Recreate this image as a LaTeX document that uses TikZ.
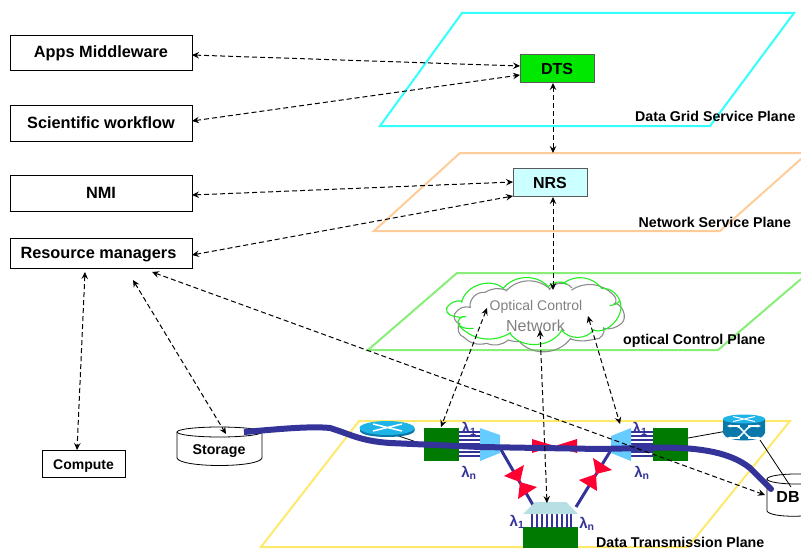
\documentclass[tikz,border=0pt]{standalone}
\usepackage{fontspec}
\setmainfont{Liberation Sans}
\usetikzlibrary{arrows.meta}
\definecolor{wavblue}{HTML}{333399}
\definecolor{muxblue}{HTML}{66CCFF}
\definecolor{muxpale}{HTML}{B8E0E4}
\definecolor{routerblue}{HTML}{0A78A8}
\definecolor{routertop}{HTML}{1FB4E8}
\definecolor{boxgreen}{HTML}{007A00}
\definecolor{bowred}{HTML}{FF0033}
\definecolor{planecyan}{HTML}{33FFFF}
\definecolor{planeorange}{HTML}{FFCC99}
\definecolor{planegreen}{HTML}{88EE77}
\definecolor{planeyellow}{HTML}{FFE96B}
\definecolor{dtsgreen}{HTML}{00E800}
\definecolor{nrscyan}{HTML}{CCFFFF}
\definecolor{cloudgreen}{HTML}{22EE22}
\definecolor{cloudgray}{HTML}{8C8C8C}
\tikzset{
  lefbox/.style={draw=black,line width=0.7pt,fill=white,inner sep=0pt,text height=12pt,text depth=1pt,font=\bfseries\fontsize{16.3}{18}\selectfont},
  svcbox/.style={draw=black!65,line width=1pt,inner sep=0pt,minimum width=74pt,minimum height=28pt,text height=12pt,text depth=0pt,font=\bfseries\fontsize{16}{18}\selectfont},
  planelabel/.style={inner sep=0pt,anchor=west,font=\bfseries\fontsize{14.2}{16}\selectfont},
  plane/.style={line width=2pt,line join=miter},
  dasharrow/.style={dashed,dash pattern=on 5pt off 3pt,line width=1pt,{Stealth[length=7pt,width=6.5pt,inset=2.5pt]}-{Stealth[length=7pt,width=6.5pt,inset=2.5pt]}},
  thinblue/.style={wavblue,line width=3pt},
  fiber/.style={wavblue,line width=6pt,line join=round},
  lam/.style={inner sep=0pt,text=wavblue,font=\bfseries\fontsize{15}{16}\selectfont},
  oxc/.style={fill=boxgreen,draw=none,inner sep=0pt},
  bow/.style={fill=bowred,draw=none},
  wire/.style={black,line width=0.8pt},
  cyl/.style={line width=0.8pt,fill=white},
  puff/.style={line width=1.1pt,line cap=round}
}
\begin{document}
\begin{tikzpicture}[x=1pt,y=-1pt]
\useasboundingbox (0,0) rectangle (801,551);
\clip (0,0) rectangle (801,551);
% planes
\draw[plane,draw=planecyan] (462,13) -- (794,13) -- (710,126) -- (380,126) -- cycle;
\draw[plane,draw=planeorange] (801,153) -- (460,153) -- (374,231) -- (720,231) -- (801,159);
\draw[plane,draw=planegreen] (801,273) -- (457,273) -- (368,350) -- (718,350) -- (801,279);
\draw[plane,draw=planeyellow] (359,421) -- (790,421) -- (688,547) -- (261,547) -- cycle;
% left boxes
\node[lefbox,minimum width=182pt,minimum height=35pt] (apps) at (101,52.5) {Apps Middleware};
\node[lefbox,minimum width=182pt,minimum height=36pt] (sci) at (101,123) {Scientific workflow};
\node[lefbox,minimum width=182pt,minimum height=36pt] (nmi) at (101,193) {NMI};
\node[lefbox,minimum width=182pt,minimum height=30pt] (rm) at (101,253) {Resource managers\hspace*{5pt}};
\node[lefbox,minimum width=83pt,minimum height=27pt,text height=11pt,text depth=0pt,font=\bfseries\fontsize{14}{16}\selectfont] (compute) at (83.5,463.5) {Compute};
% service boxes
\node[svcbox,fill=dtsgreen] (dts) at (557,69) {DTS};
\node[svcbox,fill=nrscyan] (nrs) at (550,182) {NRS};
% clouds, traced lobe by lobe
\begin{scope}[shift={(430,265)},x=0.3333pt,y=-0.3333pt]
\draw[puff,draw=cloudgray]
  (75,145) to[bend left=35] (122,127)
  (120,125) to[bend left=50] (165,82) to[bend left=25] (230,76)
  (228,78) to[bend left=45] (360,72)
  (358,74) to[bend left=55] (425,68)
  (425,75) to[bend left=40] (550,90) to[bend left=40] (555,118)
  (552,115) to[bend left=70] (575,175) to[bend left=25] (520,190)
  (520,188) to[bend left=70] (495,222) to[bend left=15] (420,222)
  (422,220) to[bend left=50] (270,232)
  (272,230) to[bend left=10] (235,225) to[bend left=30] (170,235) to[bend left=30] (100,215)
  (102,217) to[bend left=60] (90,175) (90,176) to[bend left=60] (75,145);
\draw[puff,draw=cloudgreen]
  (50,128) to[bend left=30] (95,108)
  (95,112) to[bend left=60] (220,70)
  (218,72) to[bend left=50] (355,65)
  (353,67) to[bend left=40] (412,58)
  (400,55) to[bend left=45] (515,70) to[bend left=35] (570,108) to[bend left=15] (540,122)
  (568,106) to[bend left=70] (490,195)
  (492,193) to[bend left=55] (395,195)
  (397,192) to[bend left=60] (240,205)
  (242,203) to[bend left=40] (85,180)
  (85,180) to[bend right=20] (130,190)
  (85,178) to[bend left=70] (105,155)
  (107,155) to[bend left=15] (60,150) to[bend left=40] (50,128);
\end{scope}
\node[inner sep=0pt,text=black!50,font=\fontsize{14}{16}\selectfont] (cloudtext) at (536,307) {Optical Control};
\node[inner sep=0pt,text=black!50,font=\fontsize{16}{18}\selectfont] (cloudtextb) at (535.5,326) {Network};
% storage, DB
\draw[cyl] (177,432) -- (177,458) .. controls (180,468) and (259,468) .. (262,458) -- (262,432);
\draw[cyl] (219.5,432) ellipse [x radius=42.5,y radius=5];
\node[inner sep=0pt,font=\bfseries\fontsize{14.2}{16}\selectfont] (storage) at (219,451.5) {Storage};
\draw[cyl] (767,479) -- (767,511) .. controls (770,518) and (815,518) .. (825,511) -- (825,479);
\draw[cyl] (796,479) ellipse [x radius=29,y radius=5];
\node[inner sep=0pt,font=\bfseries\fontsize{16}{18}\selectfont] (db) at (788,497) {DB};
% routers and switch boxes
\coordinate (rl) at (387,432);
\coordinate (rr) at (744,428);
\coordinate (rrb) at (760,440);
\coordinate (dbT) at (791,487);
\coordinate (oxrE) at (688,438);
\node[oxc,minimum width=35pt,minimum height=33pt] (oxl) at (441.5,444.5) {};
\node[oxc,minimum width=35pt,minimum height=33pt] (oxr) at (670.5,444.5) {};
\node[oxc,minimum width=55pt,minimum height=21pt] (oxb) at (550.5,537.5) {};
\draw[wire] (rl) -- (oxl.west);
\draw[wire] (rr) -- (oxrE);
\draw[wire] (rrb) -- (dbT);
\fill[routerblue] (360,428) -- (360,431) .. controls (362,439) and (412,439) .. (414.5,431) -- (414.5,428) -- cycle;
\fill[routertop] (387,428) ellipse [x radius=27.5,y radius=7];
\draw[white,line width=1.5pt] (373,424) -- (402,431) (373,431) -- (402,424);
\fill[routerblue] (723,419) -- (723,433) .. controls (725,443) and (763,443) .. (765,433) -- (765,419) -- cycle;
\fill[routertop] (744,419) ellipse [x radius=21,y radius=4.5];
\draw[white,line width=1pt] (733,416.5) -- (755,421.5) (733,421.5) -- (755,416.5);
\draw[white,line width=1.2pt,-{Stealth[length=4pt]}] (748,426) -- (761,426);
\draw[white,line width=1.2pt,-{Stealth[length=4pt]}] (740,426) -- (727,426);
\draw[white,line width=1.2pt,-{Stealth[length=4pt]}] (748,438) -- (761,438);
\draw[white,line width=1.2pt,-{Stealth[length=4pt]}] (740,438) -- (727,438);
\draw[white,line width=1.5pt] (736,426) .. controls (744,428) and (744,436) .. (752,438) (736,438) .. controls (744,436) and (744,428) .. (752,426);
% mux lines
\foreach \yy in {432,436,440,444,448,452,456}{
  \draw[wavblue,line width=1.2pt] (oxl.east |- 0,\yy) -- (483,\yy);
  \draw[wavblue,line width=1.2pt] (629,\yy) -- (oxr.west |- 0,\yy);
}
\foreach \xx in {532,537,542,547,552,557,562,567,571}{
  \draw[wavblue,line width=1.4pt] (\xx,513) -- (\xx,528);
}
% muxes
\coordinate (muxl) at (500,448);
\coordinate (muxr) at (611,450);
\coordinate (muxbL) at (533,505);
\coordinate (muxbR) at (576,507);
\draw[thinblue] (muxl) -- (muxbL);
\draw[thinblue] (muxr) -- (muxbR);
\fill[muxblue] (480,428) -- (500,435) -- (500,453) -- (480,461) -- cycle;
\fill[muxblue] (631,428) -- (611,436) -- (611,453) -- (631,461) -- cycle;
\fill[muxpale] (523,514) -- (535,502) -- (566,502) -- (578,514) -- cycle;
% bowties
\fill[bow] (504,476) -- (524,465) -- (520,482) -- (537,487) -- (518,499) -- (520,482) -- cycle;
\fill[bow] (593,458) -- (612,470) -- (596,474) -- (597,491) -- (579,480) -- (596,474) -- cycle;
\fill[bow] (532,439) -- (555,446) -- (577,439) -- (577,453) -- (555,446) -- (532,453) -- cycle;
% main fibre
\draw[fiber] (244,432) .. controls (280,429) and (310,426) .. (330,428) .. controls (350,434) and (360,441) .. (390,443) -- (480,447) -- (600,449) -- (665,447.5) .. controls (700,448) and (730,452) .. (750,468);
\draw[fiber,line cap=round] (750,468) -- (771,489);
% lambdas
\node[lam] at (469,429) {λ\textsubscript{1}};
\node[lam] at (469,473) {λ\textsubscript{n}};
\node[lam] at (640,429) {λ\textsubscript{1}};
\node[lam] at (642,473) {λ\textsubscript{n}};
\node[lam] at (517,522) {λ\textsubscript{1}};
\node[lam] at (587,524) {λ\textsubscript{n}};
% plane labels
\node[planelabel] (lab1) at (635,116) {Data Grid Service Plane};
\node[planelabel] (lab2) at (638.5,222) {Network Service Plane};
\node[planelabel] (lab3) at (623,341) {optical Control Plane};
\node[planelabel] (lab4) at (596,542) {Data Transmission Plane};
% free ends
\coordinate (appsE) at (192,55);
\coordinate (sciE) at (192,121);
\coordinate (nmiE) at (192,195);
\coordinate (rmE) at (192,255);
\coordinate (dtsA) at (520,66);
\coordinate (dtsB) at (520,75);
\coordinate (nrsA) at (513,182);
\coordinate (nrsB) at (513,196);
\coordinate (dtsS) at (553,83);
\coordinate (planeN) at (553,153);
\coordinate (nrsS) at (553,197);
\coordinate (cloudT) at (553,290);
\coordinate (cloudL) at (487,308);
\coordinate (cloudM) at (540,330);
\coordinate (cloudR) at (588,316);
\coordinate (oxlT) at (441,427);
\coordinate (muxbT) at (547,503);
\coordinate (oxrT) at (620,424);
\coordinate (stoT) at (226,434);
\coordinate (dbL) at (765,495);
\coordinate (rmA) at (85,272);
\coordinate (rmB) at (133,280);
\coordinate (rmC) at (152,272);
\coordinate (cmpT) at (77,450);
% dashed connectors
\draw[dasharrow] (appsE) -- (dtsA);
\draw[dasharrow] (sciE) -- (dtsB);
\draw[dasharrow] (dtsS) -- (planeN);
\draw[dasharrow] (nmiE) -- (nrsA);
\draw[dasharrow] (rmE) -- (nrsB);
\draw[dasharrow] (nrsS) -- (cloudT);
\draw[dasharrow] (cloudL) -- (oxlT);
\draw[dasharrow] (cloudM) -- (muxbT);
\draw[dasharrow] (cloudR) -- (oxrT);
\draw[dasharrow] (rmA) -- (cmpT);
\draw[dasharrow] (rmB) -- (stoT);
\draw[dasharrow] (rmC) -- (dbL);
\end{tikzpicture}
\end{document}
